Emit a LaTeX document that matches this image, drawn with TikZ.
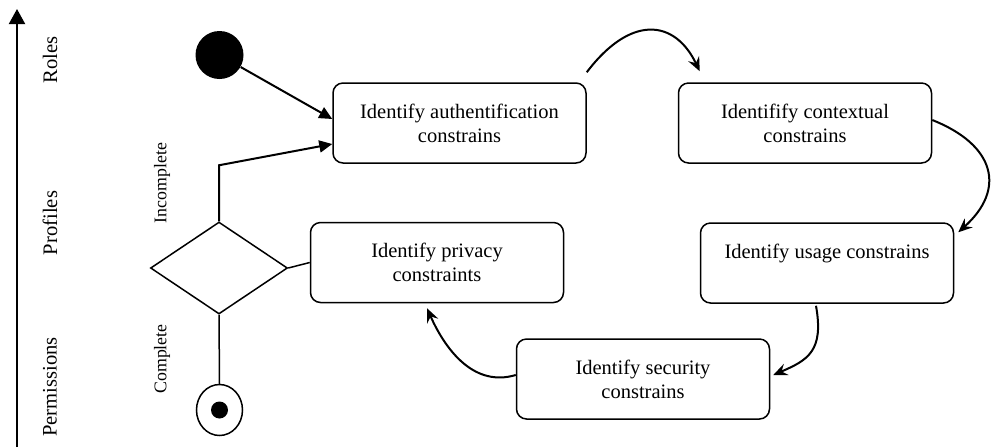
\documentclass[tikz,border=0pt]{standalone}
\usepackage{fontspec}
\setmainfont{Liberation Serif}
\usetikzlibrary{
  arrows.meta,
  shapes.geometric
}
\tikzset{
  activity/.style={draw,rounded corners=5pt,line width=0.75pt,minimum width=126.5pt,minimum height=40pt,align=center,inner sep=2pt,font=\fontsize{10.25}{12}\selectfont},
  decision/.style={draw,diamond,aspect=1.49,line width=0.75pt,minimum width=68.5pt,minimum height=46pt,inner sep=0pt},
  startnode/.style={circle,fill=black,minimum size=24pt,inner sep=0pt},
  endnode/.style={ellipse,draw,line width=0.75pt,minimum width=23pt,minimum height=25.5pt,inner sep=0pt},
  enddot/.style={circle,fill=black,minimum size=8.5pt,inner sep=0pt},
  layerlabel/.style={rotate=90,inner sep=0pt,font=\fontsize{10.3}{12}\selectfont},
  guardlabel/.style={rotate=90,inner sep=0pt,font=\fontsize{8.9}{10}\selectfont},
  axisarrow/.style={-{Triangle[length=7.5pt,width=8pt]},line width=1pt},
  flowarrow/.style={-{Triangle[length=6.5pt,width=6pt]},line width=1pt},
  plainline/.style={line width=0.75pt},
  curvearrow/.style={-{Stealth[length=7pt,width=6pt,inset=2.5pt]},line width=1pt}
}
\begin{document}
\begin{tikzpicture}[x=0.5pt,y=-0.5pt]
\useasboundingbox (0,0) rectangle (992,447);

\coordinate (axbot) at (17,447);
\coordinate (axtop) at (17,9);
\draw[axisarrow] (axbot) -- (axtop);
\node[layerlabel] (roles) at (50,60) {Roles};
\node[layerlabel] (profiles) at (50,223) {Profiles};
\node[layerlabel] (perms) at (50,387) {Permissions};

\node[startnode] (start) at (219.5,55) {};
\node[decision] (dec) at (219,268) {};
\node[endnode] (stop) at (219.5,410) {};
\node[enddot] (stopdot) at (stop.center) {};

\node[activity] (auth) at (459.5,123) {Identify authentification\\constrains};
\node[activity] (ctx) at (805,123) {Identifify contextual\\constrains};
\node[activity] (usage) at (827,263) {Identify usage constrains\\~};
\node[activity] (sec) at (643,379) {Identify security\\constrains};
\node[activity] (priv) at (437,262.5) {Identify privacy\\constraints};

\node[guardlabel] (incomplete) at (162,183) {Incomplete};
\node[guardlabel] (complete) at (162,359) {Complete};

\draw[flowarrow] (start) -- ([yshift=2pt]auth.west);
\draw[flowarrow] (dec.north) -- ++(0,-56) -- ([yshift=-10.5pt]auth.west);
\draw[plainline] (dec.east) -- (priv.west);
\draw[plainline] (dec.south) -- (stop.north);

\draw[curvearrow] ([yshift=5pt]auth.north east) .. controls +(44,-58) and +(-25,-52) .. ([xshift=11pt,yshift=5.5pt]ctx.north west);
\draw[curvearrow] ([yshift=1.5pt]ctx.east) .. controls +(63,25) and +(48,-43) .. ([xshift=2pt,yshift=-5pt]usage.north east);
\draw[curvearrow] ([xshift=-5.5pt,yshift=-1pt]usage.south) .. controls +(8,45) and +(35,-15) .. ([xshift=1.5pt,yshift=2pt]sec.east);
\draw[curvearrow] ([yshift=2pt]sec.west) .. controls +(-40,12) and +(20,45) .. ([xshift=-5pt,yshift=-2.5pt]priv.south);
\end{tikzpicture}
\end{document}
